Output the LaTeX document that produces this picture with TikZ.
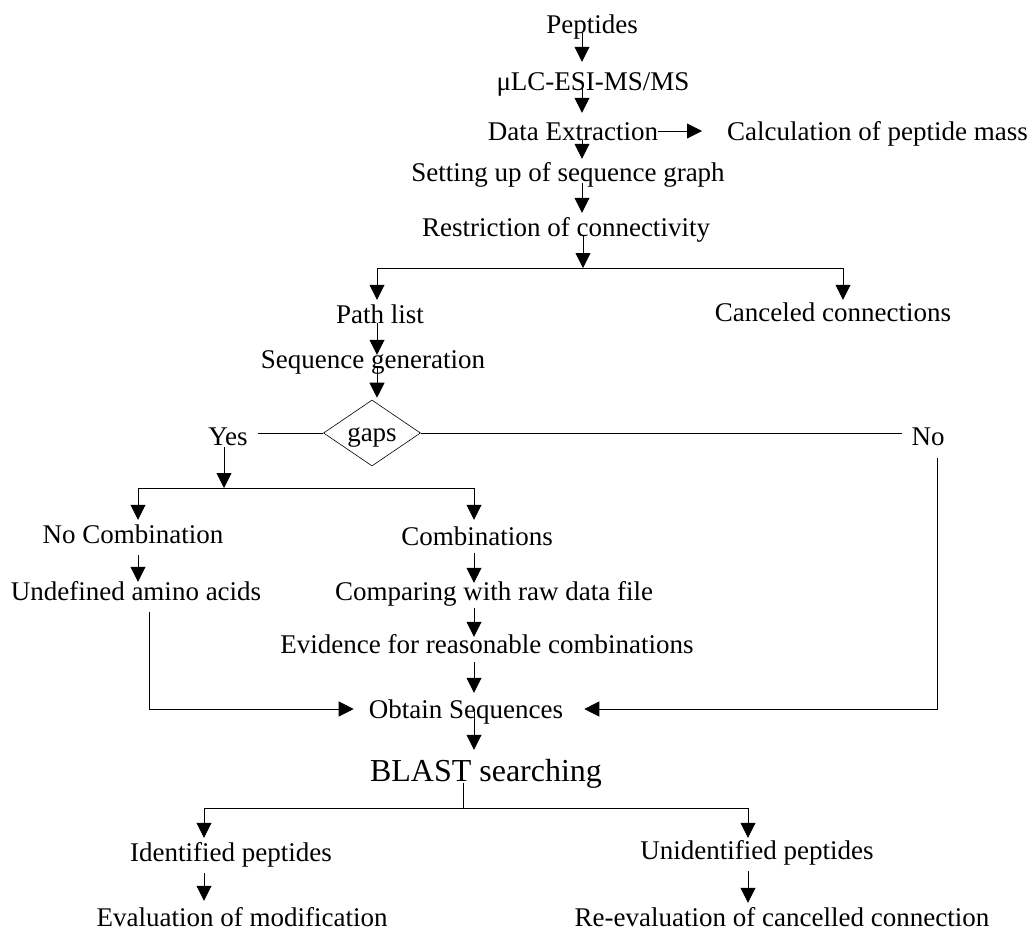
\documentclass[tikz,border=0pt]{standalone}
\usepackage{fontspec}
\setmainfont{Liberation Serif}
\usetikzlibrary{arrows.meta,shapes.geometric}
\begin{document}
\begin{tikzpicture}[x=1pt,y=-1pt,
  lbl/.style={inner sep=0pt,anchor=base,font=\fontsize{27}{32}\selectfont,text height=18pt,text depth=0pt},
  big/.style={inner sep=0pt,anchor=base,font=\fontsize{32}{38}\selectfont,text height=21pt,text depth=0pt},
  arr/.style={-{Triangle[width=15pt,length=15pt]},line width=0.8pt},
  ln/.style={line width=0.8pt},
  decision/.style={draw,diamond,line width=0.6pt,inner sep=0pt,minimum width=97pt,minimum height=66pt,text height=16pt,text depth=0pt,font=\fontsize{27}{32}\selectfont}]
\useasboundingbox (0,0) rectangle (1031,932);
% columns
\coordinate (cA) at (582,0);
\coordinate (cB) at (377,0);
\coordinate (cY) at (224,0);
\coordinate (cL) at (138,0);
\coordinate (cC) at (474,0);
\coordinate (cR) at (937,0);
\coordinate (cU) at (149,0);
\coordinate (cCan) at (843,0);
\coordinate (bS) at (463,0);
\coordinate (bL) at (204,0);
\coordinate (bR) at (748,0);
% nodes
\node[lbl] (pep) at (592,33) {Peptides};
\node[lbl] (mulc) at (593,90) {μLC-ESI-MS/MS};
\node[lbl] (data) at (573,140) {Data Extraction};
\node[lbl,anchor=base west] (calc) at (727,140) {Calculation of peptide mass};
\node[lbl] (setup) at (568,181) {Setting up of sequence graph};
\node[lbl] (restr) at (566,236) {Restriction of connectivity};
\node[lbl] (path) at (380,323) {Path list};
\node[lbl] (canc) at (833,321) {Canceled connections};
\node[lbl] (seqgen) at (373,368) {Sequence generation};
\node[decision] (gaps) at (372,433) {gaps};
\node[lbl] (yes) at (228,445) {Yes};
\node[lbl] (no) at (928,445) {No};
\node[lbl] (nocomb) at (133,543) {No Combination};
\node[lbl] (comb) at (477,545) {Combinations};
\node[lbl] (undef) at (136,600) {Undefined amino acids};
\node[lbl] (compar) at (494,600) {Comparing with raw data file};
\node[lbl] (evid) at (487,653) {Evidence for reasonable combinations};
\node[lbl] (obtain) at (466,718) {Obtain Sequences};
\node[big] (blast) at (486,781) {BLAST searching};
\node[lbl] (ident) at (231,861) {Identified peptides};
\node[lbl] (unident) at (757,859) {Unidentified peptides};
\node[lbl] (evalm) at (242,926) {Evaluation of modification};
\node[lbl] (reeval) at (782,926) {Re-evaluation of cancelled connection};
% split points
\coordinate (s1) at (583,268);
\coordinate (s2) at (224,488);
\coordinate (s3) at (463,808);
% connectors
\draw[arr,shorten >=10pt] (pep.south -| cA) -- (mulc.north -| cA);
\draw[arr,shorten <=-5pt,shorten >=9pt] (mulc.south -| cA) -- (data.north -| cA);
\draw[arr,shorten >=4pt] (data.south -| cA) -- (setup.north -| cA);
\draw[arr,shorten <=2pt,shorten >=5pt] (setup.south -| cA) -- (restr.north -| cA);
\draw[arr,shorten >=25pt] (data.east) -- (calc.west);
\draw[arr] (restr.south -| s1) -- (s1);
\draw[arr,shorten >=5pt] (s1) -| (path.north -| cB);
\draw[arr,shorten >=3pt] (s1) -| (canc.north -| cCan);
\draw[arr,shorten >=-5pt] (path.south -| cB) -- (seqgen.north -| cB);
\draw[arr,shorten >=2pt] (seqgen.south -| cB) -- (gaps.north -| cB);
\draw[ln,shorten >=10pt] (gaps.west) -- (gaps.west -| yes.east);
\draw[ln,shorten >=9pt] (gaps.east) -- (gaps.east -| no.west);
\draw[arr,shorten <=2pt] (yes.south -| cY) -- (s2);
\draw[arr,shorten >=5pt] (s2) -| (nocomb.north -| cL);
\draw[arr,shorten >=7pt] (s2) -| (comb.north -| cC);
\draw[arr,shorten <=12pt] (nocomb.south -| cL) -- (undef.north -| cL);
\draw[arr,shorten <=8pt,shorten >=-1pt] (comb.south -| cC) -- (compar.north -| cC);
\draw[arr,shorten <=8pt,shorten >=-2pt] (compar.south -| cC) -- (evid.north -| cC);
\draw[arr,shorten <=9pt,shorten >=7pt] (evid.south -| cC) -- (obtain.north -| cC);
\draw[arr,shorten <=12pt,shorten >=15pt] (undef.south -| cU) |- (obtain.west);
\draw[arr,shorten <=13pt,shorten >=21pt] (no.south -| cR) |- (obtain.east);
\draw[arr,shorten <=-6pt,shorten >=10pt] (obtain.south -| cC) -- (blast.north -| cC);
\draw[ln,shorten <=2pt] (blast.south -| bS) -- (s3);
\draw[arr,shorten >=5pt] (s3) -| (ident.north -| bL);
\draw[arr,shorten >=3pt] (s3) -| (unident.north -| bR);
\draw[arr,shorten <=12pt,shorten >=7pt] (ident.south -| bL) -- (evalm.north -| bL);
\draw[arr,shorten <=12pt,shorten >=5pt] (unident.south -| bR) -- (reeval.north -| bR);
\end{tikzpicture}
\end{document}
